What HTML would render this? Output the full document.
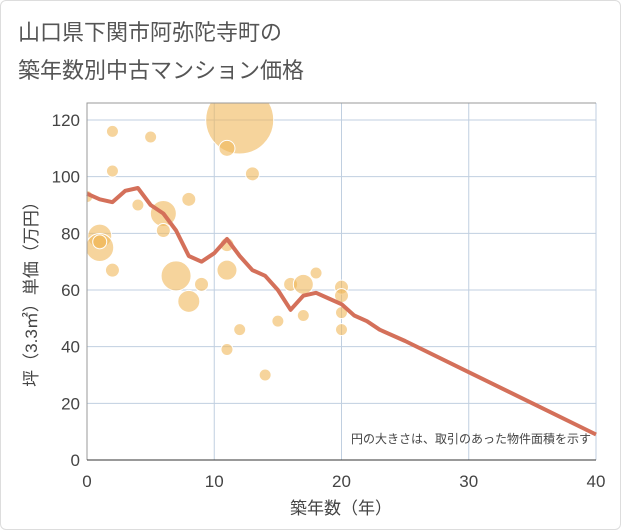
<!DOCTYPE html>
<html><head><meta charset="utf-8"><style>
body{margin:0;background:#fff;font-family:"Liberation Sans","Noto Sans CJK JP",sans-serif;}
#wrap{position:relative;width:619px;height:528px;border:1px solid #ddd;border-radius:6px;overflow:hidden;background:#fff}
</style></head><body>
<div id="wrap">
<svg id="chart" width="621" height="530" style="position:absolute;left:-1px;top:-1px">
<text x="18" y="40" font-size="22" fill="#555" font-family="Liberation Sans, Noto Sans CJK JP, sans-serif">山口県下関市阿弥陀寺町の</text>
<text x="18" y="78" font-size="22" fill="#555" font-family="Liberation Sans, Noto Sans CJK JP, sans-serif">築年数別中古マンション価格</text>
<g id="grid"></g><g id="bubbles"></g><g id="line"></g><g id="axes"></g>
<text x="591" y="443" font-size="12" fill="#444" text-anchor="end" font-family="Liberation Sans, Noto Sans CJK JP, sans-serif">円の大きさは、取引のあった物件面積を示す</text>
<text x="341" y="514" font-size="17" fill="#444" text-anchor="middle" font-family="Liberation Sans, Noto Sans CJK JP, sans-serif">築年数（年）</text>
<text transform="translate(37,290) rotate(-90)" font-size="17" fill="#444" text-anchor="middle" font-family="Liberation Sans, Noto Sans CJK JP, sans-serif">坪（3.3㎡）単価（万円）</text>
</svg>
</div>
<script>
const xTicks=[0,10,20,30,40];
const yTicks=[0,20,40,60,80,100,120];
const bubbleX=[0,2,5,2,12,11,13,4,6,6,8,1,1,1,2,7,8,9,11,11,12,11,14,15,16,17,17,18,20,20,20,20];
const bubbleY=[93,116,114,102,120,110,101,90,87,81,92,79,75,77,67,65,56,62,76,67,46,39,30,49,62,62,51,66,61,58,52,46];
const bubbleR=[6,6,6,6,34,8,7,6,13,7,7,12,14,7,7,15,11,7,7,10,6,6,6,6,7,10,6,6,7,7,6,6];
const lineX=[0,1,2,3,4,5,6,7,8,9,10,11,12,13,14,15,16,17,18,19,20,21,22,23,25,30,35,40];
const lineY=[94,92,91,95,96,90,87,81,72,70,73,78,72,67,65,60,53,58,59,57,55,51,49,46,42,31,20,9];
const X0=87,X1=596,Y0=460,Y1=103;
const sx=v=>X0+(v-0)/40*(X1-X0);
const sy=v=>Y0-v/120*(Y0-120);
const NS="http://www.w3.org/2000/svg";
function mk(p,t,a){const e=document.createElementNS(NS,t);for(const k in a)e.setAttribute(k,a[k]);p.appendChild(e);return e;}
const grid=document.getElementById('grid'),axes=document.getElementById('axes');
xTicks.forEach(t=>{
 const l=mk(grid,'line',{x1:sx(t),x2:sx(t),y1:Y1,y2:Y0,stroke:'#c0cfe0','stroke-width':1});
 
 
 const tx=mk(axes,'text',{x:sx(t),y:487,'font-size':17,fill:'#444','text-anchor':'middle'});tx.textContent=t;
 
 
});
yTicks.forEach(t=>{
 const l=mk(grid,'line',{x1:X0,x2:X1,y1:sy(t),y2:sy(t),stroke:'#c0cfe0','stroke-width':1});
 
 
 const tx=mk(axes,'text',{x:80,y:sy(t)+6,'font-size':17,fill:'#444','text-anchor':'end'});tx.textContent=t;
 
 
});
const fr=mk(axes,'path',{d:`M${X0},${Y0}V${Y1}H${X1}`,fill:'none',stroke:'#999','stroke-width':1});


const xa=mk(axes,'line',{x1:X0,x2:X1,y1:Y0,y2:Y0,stroke:'#333','stroke-width':1});


const bg=document.getElementById('bubbles');
const cp=mk(bg,'clipPath',{id:'clip'});mk(cp,'rect',{x:X0,y:Y1,width:X1-X0,height:Y0-Y1});
bg.setAttribute('clip-path','url(#clip)');
bubbleX.forEach((x,i)=>{
 const c=mk(bg,'circle',{cx:sx(x),cy:sy(bubbleY[i]),r:bubbleR[i],fill:'rgba(240,184,90,0.6)',stroke:'#fff','stroke-width':1});
 
 
});
const pl=mk(document.getElementById('line'),'polyline',{points:lineX.map((x,i)=>sx(x)+','+sy(lineY[i])).join(' '),fill:'none',stroke:'#d4705a','stroke-width':4,'stroke-linejoin':'round'});


</script>
</body></html>
